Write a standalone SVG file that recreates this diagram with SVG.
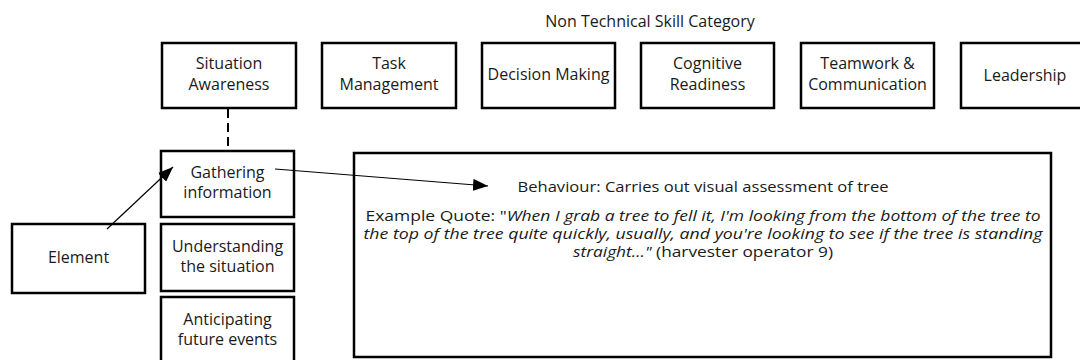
<svg xmlns="http://www.w3.org/2000/svg" width="1080" height="360" viewBox="0 0 1080 360">
  <style>
    .box { fill: #ffffff; stroke: #000000; stroke-width: 2.5; }
    .lbl { font-family: "Open Sans", "Liberation Sans", sans-serif; font-size: 16px; fill: #1a1a1a; text-anchor: middle; }
    .body { font-family: "Open Sans", "Liberation Sans", sans-serif; font-size: 15px; fill: #1a1a1a; text-anchor: middle; }
    .it { font-style: italic; }
    .link { fill: none; stroke: #000000; stroke-width: 1.2; }
    .dash { fill: none; stroke: #000000; stroke-width: 2; stroke-dasharray: 9 5; }
  </style>
  <defs>
    <marker id="head" markerUnits="userSpaceOnUse" markerWidth="16" markerHeight="12" refX="15" refY="6" orient="auto">
      <path d="M0,0 L15,6 L0,12 Z" fill="#000000"/>
    </marker>
  </defs>

  <rect width="1080" height="360" fill="#ffffff"/>

  <text class="lbl" x="650" y="27">Non Technical Skill Category</text>

  <!-- skill categories -->
  <g id="cat-situation-awareness">
    <rect class="box" x="162" y="43" width="134" height="65"/>
    <text class="lbl" x="229" y="69">Situation</text>
    <text class="lbl" x="229" y="90">Awareness</text>
  </g>
  <g id="cat-task-management">
    <rect class="box" x="322" y="43" width="134" height="65"/>
    <text class="lbl" x="389" y="69">Task</text>
    <text class="lbl" x="389" y="90">Management</text>
  </g>
  <g id="cat-decision-making">
    <rect class="box" x="482" y="43" width="133" height="65"/>
    <text class="lbl" x="548.5" y="80">Decision Making</text>
  </g>
  <g id="cat-cognitive-readiness">
    <rect class="box" x="641" y="43" width="133" height="65"/>
    <text class="lbl" x="707.5" y="69">Cognitive</text>
    <text class="lbl" x="707.5" y="90">Readiness</text>
  </g>
  <g id="cat-teamwork">
    <rect class="box" x="801" y="43" width="133" height="65"/>
    <text class="lbl" x="867.5" y="69">Teamwork &amp;</text>
    <text class="lbl" x="867.5" y="90">Communication</text>
  </g>
  <g id="cat-leadership">
    <rect class="box" x="961" y="43" width="134" height="65"/>
    <text class="lbl" x="1025" y="81">Leadership</text>
  </g>

  <!-- elements of situation awareness -->
  <g id="el-gathering">
    <rect class="box" x="161" y="151" width="133" height="66"/>
    <text class="lbl" x="227.5" y="178">Gathering</text>
    <text class="lbl" x="227.5" y="198">information</text>
  </g>
  <g id="el-understanding">
    <rect class="box" x="161" y="224" width="133" height="67"/>
    <text class="lbl" x="227.5" y="252">Understanding</text>
    <text class="lbl" x="227.5" y="272">the situation</text>
  </g>
  <g id="el-anticipating">
    <rect class="box" x="161" y="297" width="133" height="70"/>
    <text class="lbl" x="227.5" y="325">Anticipating</text>
    <text class="lbl" x="227.5" y="345">future events</text>
  </g>

  <g id="legend-element">
    <rect class="box" x="12" y="224" width="133" height="69"/>
    <text class="lbl" x="78.5" y="263">Element</text>
  </g>

  <!-- behaviour panel -->
  <g id="behaviour">
    <rect class="box" x="354" y="153" width="697" height="204"/>
    <text class="body" x="703" y="192" textLength="371" lengthAdjust="spacingAndGlyphs">Behaviour: Carries out visual assessment of tree</text>
    <text class="body" x="703" y="221" textLength="675" lengthAdjust="spacingAndGlyphs">Example Quote: "<tspan class="it">When I grab a tree to fell it, I'm looking from the bottom of the tree to</tspan></text>
    <text class="body it" x="703" y="239" textLength="679" lengthAdjust="spacingAndGlyphs">the top of the tree quite quickly, usually, and you're looking to see if the tree is standing</text>
    <text class="body" x="703" y="257" textLength="260" lengthAdjust="spacingAndGlyphs"><tspan class="it">straight…"</tspan> (harvester operator 9)</text>
  </g>

  <!-- connectors -->
  <g id="connectors">
    <line class="dash" x1="228" y1="109" x2="228" y2="150"/>
    <line class="link" x1="107" y1="229" x2="173" y2="167" marker-end="url(#head)"/>
    <line class="link" x1="275" y1="169" x2="488" y2="186" marker-end="url(#head)"/>
  </g>
</svg>
